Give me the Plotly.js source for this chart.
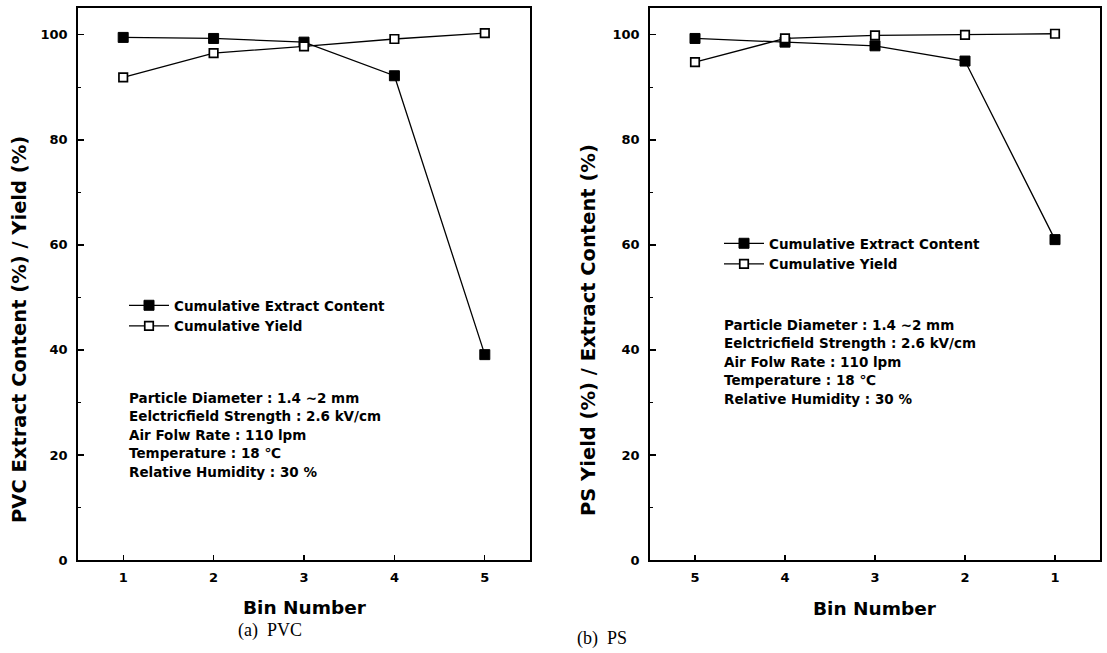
<!DOCTYPE html>
<html><head><meta charset="utf-8">
<script src="https://cdn.plot.ly/plotly-3.0.1.min.js"></script>
<style>html,body{margin:0;padding:0;background:#fff}#chart{width:1107px;height:653px}</style>
</head><body><div id="chart"></div>
<script>
// ---- data ----
const binsPVC = [1, 2, 3, 4, 5];
const pvcExtract = [99.5, 99.3, 98.6, 92.2, 39.1];
const pvcYield = [91.9, 96.5, 97.8, 99.2, 100.3];
const binsPS = [5, 4, 3, 2, 1];
const psExtract = [99.3, 98.6, 97.9, 95.0, 61.0];
const psYield = [94.8, 99.3, 99.9, 100.0, 100.2];
const seriesNames = ['Cumulative Extract Content', 'Cumulative Yield'];
const xTickVals = [1, 2, 3, 4, 5];
const yTickVals = [0, 20, 40, 60, 80, 100];
const yMinorVals = [10, 30, 50, 70, 90];
const yTitles = ['PVC Extract Content (%) / Yield (%)', 'PS Yield (%) / Extract Content (%)'];
const xTitle = 'Bin Number';
const captions = ['(a)  PVC', '(b)  PS'];
const infoLines = ['Particle Diameter : 1.4 ~2 mm', 'Eelctricfield Strength : 2.6 kV/cm',
  'Air Folw Rate : 110 lpm', 'Temperature : 18 \u2103', 'Relative Humidity : 30 %'];

// ---- layout helpers ----
const W = 1107, H = 653;
const px = p => p / W;
const py = p => 1 - p / H;
const FAM = 'DejaVu Sans, Arial, sans-serif';
const boldFont = (s) => ({family: FAM, size: s, color: '#000', weight: 700});

function lineTrace(x, y, name, filled, xa, ya, leg) {
  return {
    x: x, y: y, name: name, type: 'scatter', mode: 'lines+markers',
    xaxis: xa, yaxis: ya, legend: leg,
    line: {color: '#000', width: 1.3},
    marker: filled ? {symbol: 'square', size: 10, color: '#000', line: {color: '#000', width: 1}}
                   : {symbol: 'square', size: 8.5, color: '#fff', line: {color: '#000', width: 1.7}},
    hoverinfo: 'x+y'
  };
}

const traces = [
  lineTrace(binsPVC, pvcExtract, seriesNames[0], true, 'x', 'y', 'legend'),
  lineTrace(binsPVC, pvcYield, seriesNames[1], false, 'x', 'y', 'legend'),
  lineTrace(binsPS, psExtract, seriesNames[0], true, 'x2', 'y2', 'legend2'),
  lineTrace(binsPS, psYield, seriesNames[1], false, 'x2', 'y2', 'legend2')
];

const plotTop = 8, plotBot = 560;
function xAx(d0, d1, range, anchor) {
  return {domain: [px(d0), px(d1)], range: range, anchor: anchor,
    tickvals: xTickVals, ticktext: xTickVals.map(String), ticks: 'inside', ticklen: 5, tickwidth: 1.4,
    tickcolor: '#000', showline: true, mirror: true, linecolor: '#000', linewidth: 1.8,
    showgrid: false, zeroline: false, tickfont: boldFont(13), ticklabelstandoff: 5, fixedrange: true};
}
function yAx(anchor) {
  return {domain: [py(plotBot), py(plotTop)], range: [0, 105.1], anchor: anchor,
    tickvals: yTickVals, ticks: 'inside', ticklen: 6, tickwidth: 1.4, tickcolor: '#000',
    minor: {tickvals: yMinorVals, ticks: 'inside', ticklen: 3, tickwidth: 1.1, tickcolor: '#000', showgrid: false},
    showline: true, mirror: true, linecolor: '#000', linewidth: 1.8,
    showgrid: false, zeroline: false, tickfont: boldFont(13), ticklabelstandoff: 6, fixedrange: true};
}

const annotations = [];
// y titles
annotations.push({text: yTitles[0], xref: 'paper', yref: 'paper', x: px(19), y: py(330),
  textangle: -90, showarrow: false, font: boldFont(19.5), xanchor: 'center', yanchor: 'middle'});
annotations.push({text: yTitles[1], xref: 'paper', yref: 'paper', x: px(588), y: py(330),
  textangle: -90, showarrow: false, font: boldFont(19.5), xanchor: 'center', yanchor: 'middle'});
// x titles
annotations.push({text: xTitle, xref: 'paper', yref: 'paper', x: px(305), y: py(607),
  showarrow: false, font: boldFont(18.5), xanchor: 'center', yanchor: 'middle'});
annotations.push({text: xTitle, xref: 'paper', yref: 'paper', x: px(875), y: py(608),
  showarrow: false, font: boldFont(18.5), xanchor: 'center', yanchor: 'middle'});
// captions
annotations.push({text: captions[0], xref: 'paper', yref: 'paper', x: px(236), y: py(630),
  showarrow: false, font: {family: 'Liberation Serif, Times New Roman, serif', size: 18, color: '#000'},
  xanchor: 'left', yanchor: 'middle'});
annotations.push({text: captions[1], xref: 'paper', yref: 'paper', x: px(575), y: py(638),
  showarrow: false, font: {family: 'Liberation Serif, Times New Roman, serif', size: 18, color: '#000'},
  xanchor: 'left', yanchor: 'middle'});
// info text blocks
const infoStart = [[127, 398], [722, 325]];
const infoGap = 18.4;
infoStart.forEach(([x0, y0]) => {
  infoLines.forEach((t, i) => {
    annotations.push({text: t, xref: 'paper', yref: 'paper', x: px(x0), y: py(y0 + i * infoGap),
      showarrow: false, font: boldFont(13.5), xanchor: 'left', yanchor: 'middle'});
  });
});

function legendAt(x0, yTop) {
  return {x: px(x0), xanchor: 'left', y: py(yTop), yanchor: 'top', bgcolor: 'rgba(0,0,0,0)',
    borderwidth: 0, font: boldFont(13.5), itemwidth: 40, tracegroupgap: 0, traceorder: 'normal',
    itemclick: false, itemdoubleclick: false};
}

const layout = {
  width: W, height: H, margin: {l: 0, r: 0, t: 0, b: 0},
  paper_bgcolor: '#fff', plot_bgcolor: '#fff', showlegend: true,
  xaxis: xAx(78, 530, [0.5, 5.5], 'y'),
  yaxis: yAx('x'),
  xaxis2: xAx(650, 1100, [5.5, 0.5], 'y2'),
  yaxis2: yAx('x2'),
  legend: legendAt(124, 290),
  legend2: legendAt(719, 228),
  annotations: annotations
};

Plotly.newPlot('chart', traces, layout, {displayModeBar: false, staticPlot: true});
</script>
</body></html>
